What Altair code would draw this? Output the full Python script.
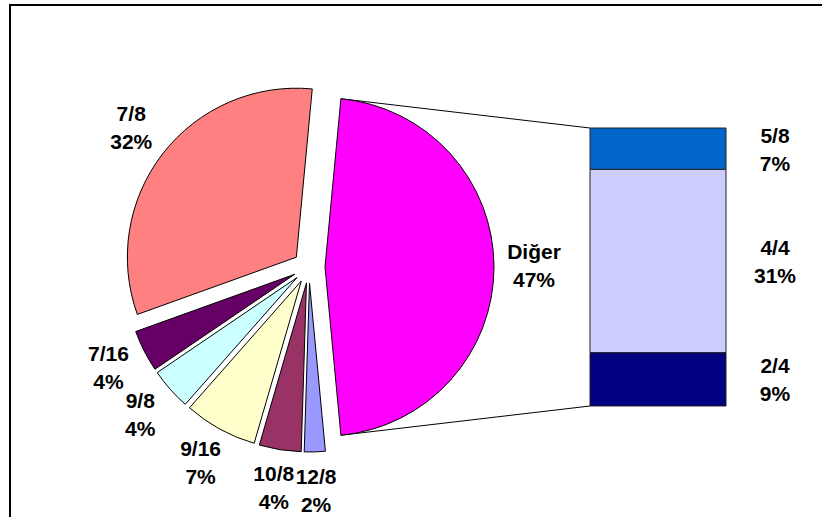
import math
import altair as alt
import pandas as pd

# Pie slices, clockwise from the "Diğer" (other) slice
pie_labels = ["Diğer", "12/8", "10/8", "9/16", "9/8", "7/16", "7/8"]
pie_pcts = [47, 2, 4, 7, 4, 4, 32]
pie_colors = ["#FF00FF", "#9999FF", "#993366", "#FFFFCC", "#CCFFFF", "#660066", "#FF8080"]

# Breakdown of "Diğer", top to bottom
bar_labels = ["5/8", "4/4", "2/4"]
bar_pcts = [7, 31, 9]
bar_colors = ["#0066CC", "#CCCCFF", "#000080"]

# Layout (pixels)
W, H = 822, 517
CX, CY = 309, 267          # pie centre
R = 169                    # pie radius
EXPLODE = 16               # slice offset from the centre
LABEL_R = 225              # label distance from the centre
BAR_X0, BAR_X1 = 590, 726
BAR_TOP, BAR_BOTTOM = 128, 406
BAR_LABEL_X = 775
# "Diğer" is centred on 3 o'clock
START_DEG = 90 - pie_pcts[0] * 3.6 / 2

FONT = "Liberation Sans"
FONT_SIZE = 21
LINE_H = 28

pie_df = pd.DataFrame({
    "i": range(len(pie_labels)),
    "label": pie_labels,
    "pct": pie_pcts,
    "color": pie_colors,
})
bar_df = pd.DataFrame({
    "i": range(len(bar_labels)),
    "label": bar_labels,
    "pct": bar_pcts,
    "color": bar_colors,
})

pie_base = alt.Chart(pie_df).transform_window(
    cum="sum(pct)", sort=[alt.SortField("i")], frame=[None, 0]
).transform_calculate(
    t0=f"({START_DEG} + (datum.cum - datum.pct) * 3.6) * PI / 180",
    t1=f"({START_DEG} + datum.cum * 3.6) * PI / 180",
).transform_calculate(
    mid="(datum.t0 + datum.t1) / 2",
).transform_calculate(
    cx=f"{CX} + {EXPLODE} * sin(datum.mid)",
    cy=f"{CY} - {EXPLODE} * cos(datum.mid)",
    lx=f"{CX} + {LABEL_R} * sin(datum.mid)",
    ly=f"{CY} - {LABEL_R} * cos(datum.mid)",
    text="datum.label + '\\n' + datum.pct + '%'",
)

slices = pie_base.mark_arc(radius=R, stroke="black", strokeWidth=1).encode(
    theta=alt.Theta("t0:Q", scale=None, stack=False),
    theta2="t1:Q",
    x=alt.X("cx:Q", scale=None),
    y=alt.Y("cy:Q", scale=None),
    fill=alt.Color("color:N", scale=None),
)

label_style = dict(
    font=FONT, fontSize=FONT_SIZE, fontWeight="bold", lineBreak="\n",
    lineHeight=LINE_H, align="center", baseline="middle", color="black",
    dy=-LINE_H / 2,
)

pie_text = pie_base.mark_text(**label_style).encode(
    x=alt.X("lx:Q", scale=None),
    y=alt.Y("ly:Q", scale=None),
    text="text:N",
)

# Lines joining the ends of the "Diğer" arc to the stacked bar
other = pie_base.transform_filter("datum.i == 0").transform_calculate(
    px0=f"datum.cx + {R} * sin(datum.t0)",
    py0=f"datum.cy - {R} * cos(datum.t0)",
    px1=f"datum.cx + {R} * sin(datum.t1)",
    py1=f"datum.cy - {R} * cos(datum.t1)",
)
link_top = other.mark_rule(color="black", strokeWidth=1).encode(
    x=alt.X("px0:Q", scale=None),
    y=alt.Y("py0:Q", scale=None),
    x2=alt.value(BAR_X0),
    y2=alt.value(BAR_TOP),
)
link_bottom = other.mark_rule(color="black", strokeWidth=1).encode(
    x=alt.X("px1:Q", scale=None),
    y=alt.Y("py1:Q", scale=None),
    x2=alt.value(BAR_X0),
    y2=alt.value(BAR_BOTTOM),
)

bar_base = alt.Chart(bar_df).transform_joinaggregate(
    total="sum(pct)"
).transform_window(
    cum="sum(pct)", sort=[alt.SortField("i")], frame=[None, 0]
).transform_calculate(
    y0=f"{BAR_TOP} + (datum.cum - datum.pct) * {BAR_BOTTOM - BAR_TOP} / datum.total",
    y1=f"{BAR_TOP} + datum.cum * {BAR_BOTTOM - BAR_TOP} / datum.total",
).transform_calculate(
    ym="(datum.y0 + datum.y1) / 2 + 2",
    text="datum.label + '\\n' + datum.pct + '%'",
)

bar = bar_base.mark_rect(stroke="#222222", strokeWidth=1).encode(
    x=alt.value(BAR_X0),
    x2=alt.value(BAR_X1),
    y=alt.Y("y0:Q", scale=None),
    y2="y1:Q",
    fill=alt.Color("color:N", scale=None),
)

bar_text = bar_base.mark_text(**label_style).encode(
    x=alt.value(BAR_LABEL_X),
    y=alt.Y("ym:Q", scale=None),
    text="text:N",
)

# Chart frame
frame = alt.Chart(pd.DataFrame({"k": [0]})).mark_rect(
    fillOpacity=0, stroke="black", strokeWidth=2
).encode(
    x=alt.value(10), y=alt.value(5), x2=alt.value(W + 10), y2=alt.value(H + 10)
)

chart = alt.layer(
    frame, link_top, link_bottom, slices, bar, pie_text, bar_text
).properties(
    width=W, height=H, padding=0, autosize=alt.AutoSizeParams(type="none"),
    background="white",
).configure_view(strokeWidth=0)

chart.save("out.html", embed_options={"renderer": "svg", "actions": False})
